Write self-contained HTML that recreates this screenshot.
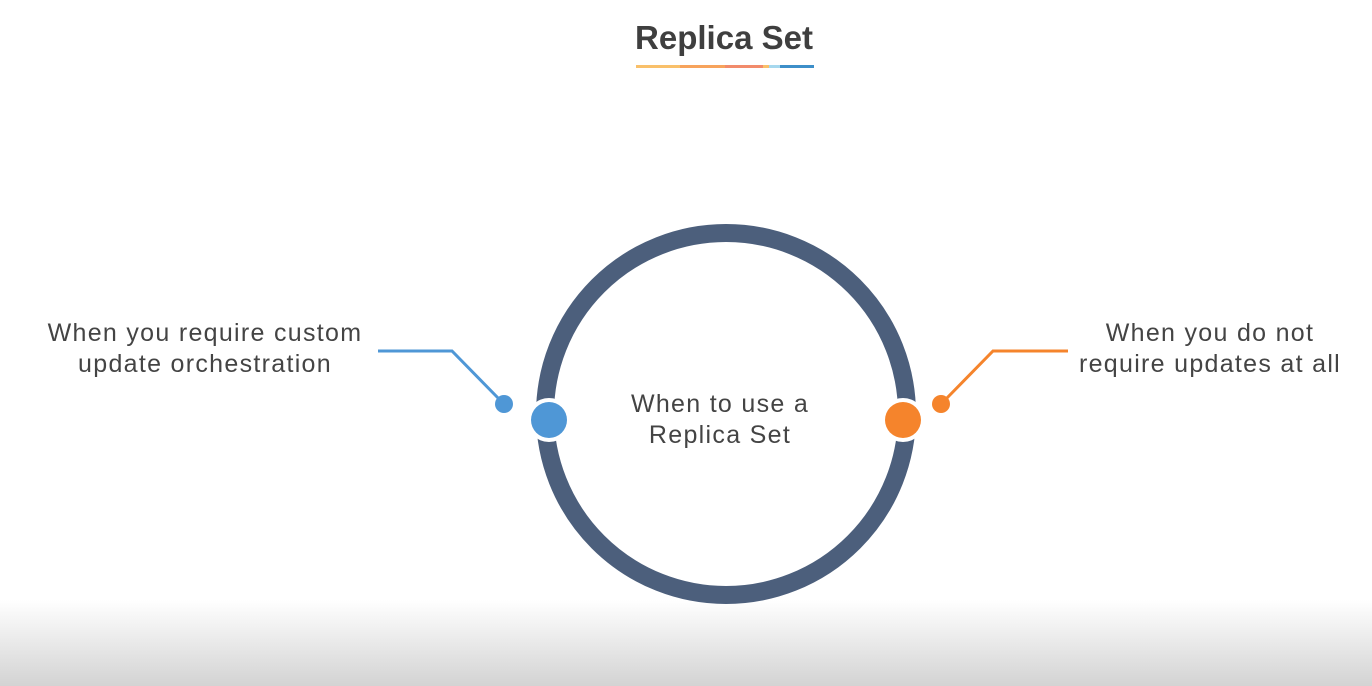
<!DOCTYPE html>
<html><head><meta charset="utf-8"><style>
html,body{margin:0;padding:0}
body{width:1372px;height:686px;position:relative;overflow:hidden;background:#fff;font-family:"Liberation Sans",sans-serif}
.grad{position:absolute;left:0;top:600px;width:1372px;height:86px;background:linear-gradient(#fff,#d3d3d3)}
.t{position:absolute;color:#444;font-size:25px;line-height:31px;letter-spacing:1.3px;white-space:nowrap}
</style></head><body>
<div class="grad"></div>
<svg width="1372" height="686" style="position:absolute;left:0;top:0">
<text x="724" y="49" text-anchor="middle" font-family="Liberation Sans" font-weight="bold" font-size="33" fill="#3f3f3f">Replica Set</text>
<rect x="636" y="65" width="44" height="3" fill="#f9c06a"/>
<rect x="680" y="65" width="45" height="3" fill="#f7a35c"/>
<rect x="725" y="65" width="38" height="3" fill="#f28b6b"/>
<rect x="763" y="65" width="6" height="3" fill="#f9c06a"/>
<rect x="769" y="65" width="11" height="3" fill="#a6d8ee"/>
<rect x="780" y="65" width="34" height="3" fill="#3d8fc9"/>
<circle cx="726" cy="414" r="181" fill="none" stroke="#4c5f7c" stroke-width="18"/>
<polyline points="378,351 452,351 500,400" fill="none" stroke="#4f97d6" stroke-width="3"/>
<circle cx="504" cy="404" r="9" fill="#4f97d6"/>
<circle cx="549" cy="420" r="22" fill="#fff"/>
<circle cx="549" cy="420" r="18" fill="#4f97d6"/>
<polyline points="1068,351 993,351 945,400" fill="none" stroke="#f5842c" stroke-width="3"/>
<circle cx="941" cy="404" r="9" fill="#f5842c"/>
<circle cx="903" cy="420" r="22" fill="#fff"/>
<circle cx="903" cy="420" r="18" fill="#f5842c"/>
</svg>
<div class="t" style="left:30px;top:318px;width:350px;text-align:center">When you require custom<br>update orchestration</div>
<div class="t" style="left:1060px;top:318px;width:300px;text-align:center">When you do not<br>require updates at all</div>
<div class="t" style="left:570px;top:389px;width:300px;text-align:center">When to use a<br>Replica Set</div>
</body></html>
